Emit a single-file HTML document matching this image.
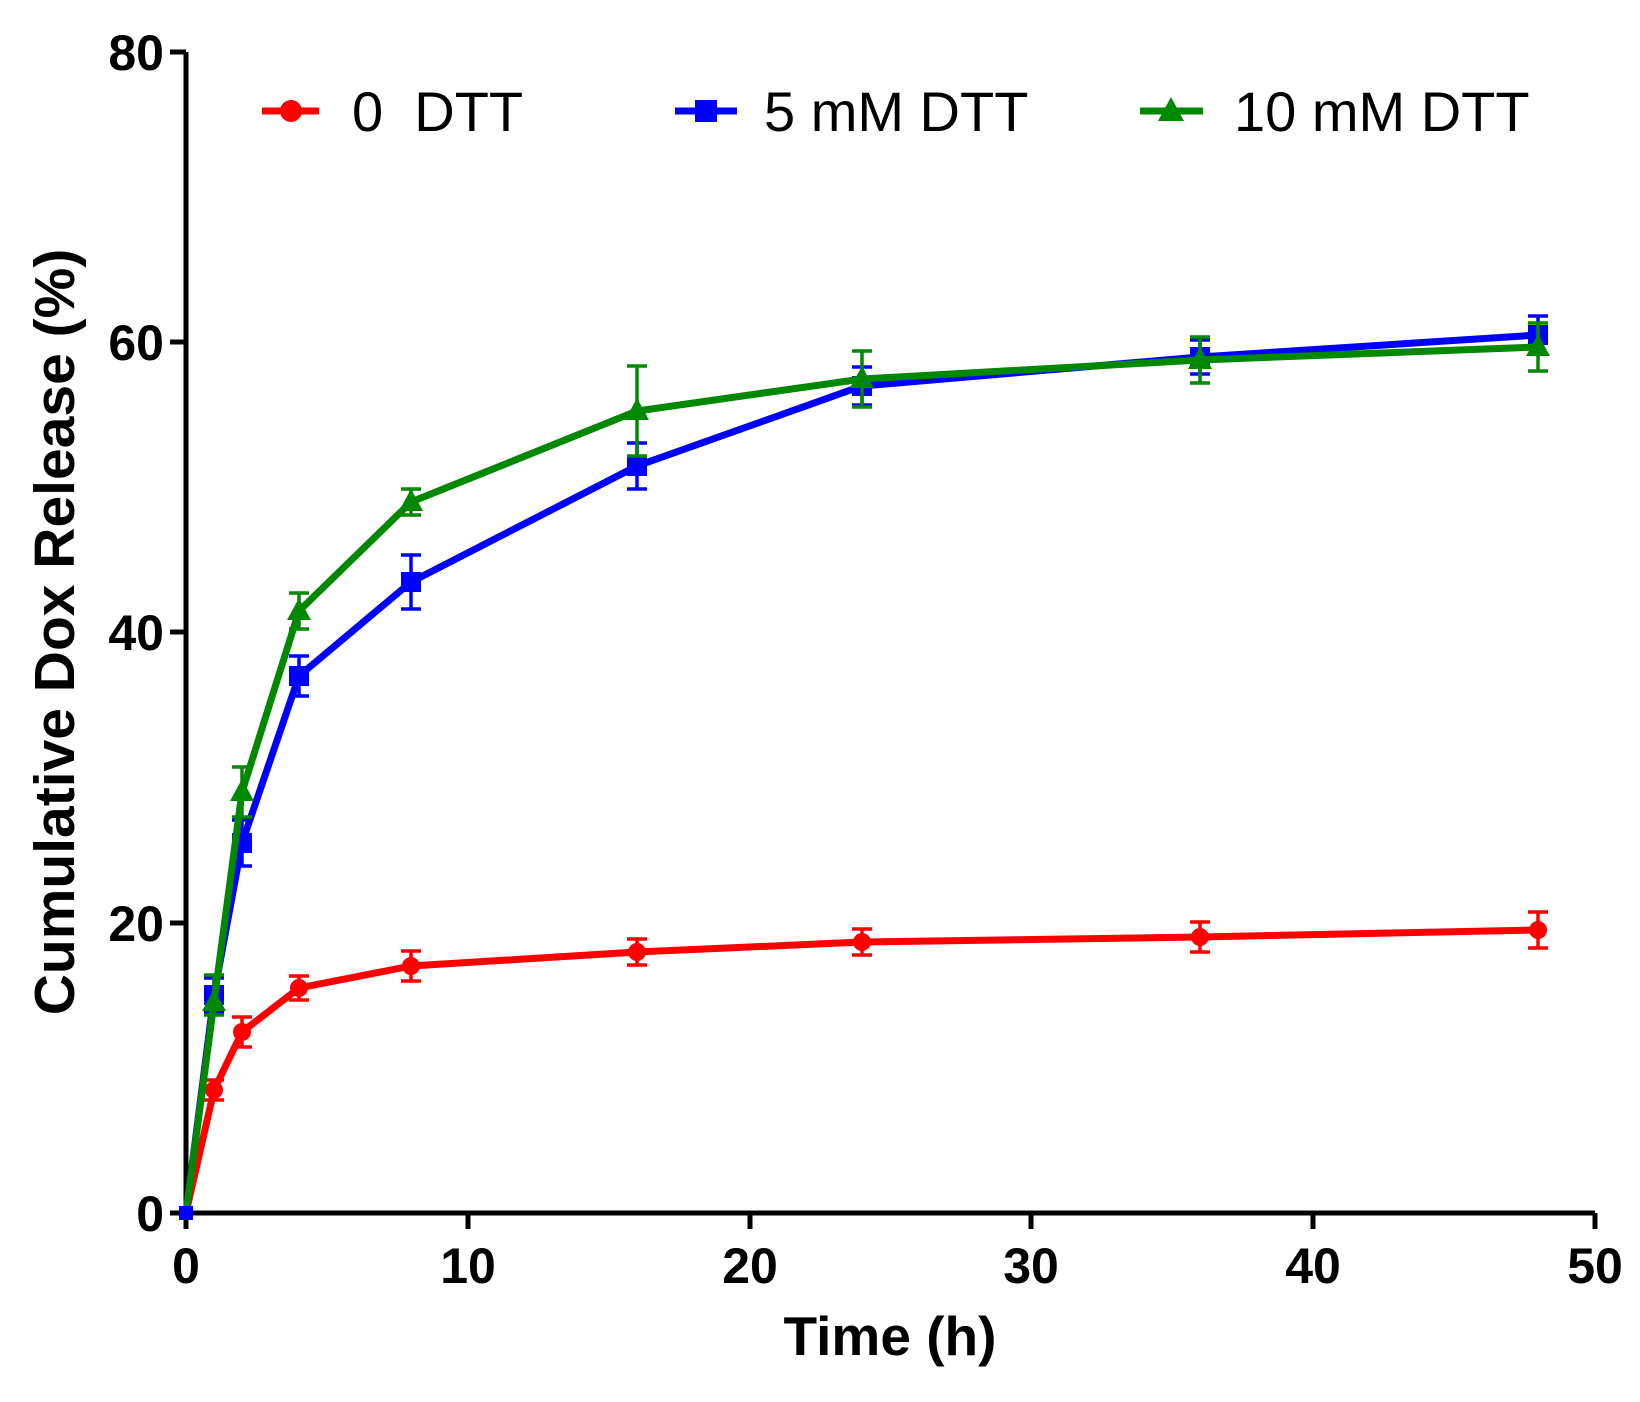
<!DOCTYPE html>
<html><head><style>body{margin:0;background:#fff}</style></head><body>
<svg width="1640" height="1397" xmlns="http://www.w3.org/2000/svg" font-family="Liberation Sans, Arial, sans-serif">
<rect width="1640" height="1397" fill="#fff"/>
<g stroke="#000" stroke-width="5" fill="none">
<polyline points="186,52 186,1213 1595,1213"/>
<line x1="170" y1="52" x2="186" y2="52"/><line x1="170" y1="342" x2="186" y2="342"/><line x1="170" y1="632" x2="186" y2="632"/><line x1="170" y1="923" x2="186" y2="923"/><line x1="170" y1="1213" x2="186" y2="1213"/>
<line x1="186" y1="1213" x2="186" y2="1229"/><line x1="468" y1="1213" x2="468" y2="1229"/><line x1="750" y1="1213" x2="750" y2="1229"/><line x1="1031" y1="1213" x2="1031" y2="1229"/><line x1="1313" y1="1213" x2="1313" y2="1229"/><line x1="1595" y1="1213" x2="1595" y2="1229"/>
</g>
<g font-size="50" font-weight="bold" text-anchor="end">
<text x="164" y="70">80</text><text x="164" y="360">60</text><text x="164" y="650">40</text><text x="164" y="941">20</text><text x="164" y="1231">0</text>
</g>
<g font-size="50" font-weight="bold" text-anchor="middle">
<text x="186" y="1283">0</text><text x="468" y="1283">10</text><text x="750" y="1283">20</text><text x="1031" y="1283">30</text><text x="1313" y="1283">40</text><text x="1595" y="1283">50</text>
<text x="890" y="1355" font-size="55">Time (h)</text>
<text transform="translate(74,632) rotate(-90)" font-size="57">Cumulative Dox Release (%)</text>
</g>
<g font-size="56">
<line x1="262" y1="111" x2="319" y2="111" stroke="#f00" stroke-width="7"/><circle cx="291" cy="111" r="11" fill="#f00"/>
<text x="352" y="131" xml:space="preserve">0  DTT</text>
<line x1="675" y1="111" x2="737" y2="111" stroke="#00f" stroke-width="7"/><rect x="695" y="100" width="22" height="22" fill="#00f"/>
<text x="764" y="131">5 mM DTT</text>
<line x1="1140" y1="111" x2="1203" y2="111" stroke="#080" stroke-width="7"/><polygon points="1171,97 1184,121 1158,121" fill="#080"/>
<text x="1234" y="131">10 mM DTT</text>
</g>
<g stroke="#f00" stroke-width="7" fill="#f00">
<polyline fill="none" points="186,1213 214,1090 242,1032 299,988 411,966 637,952 862,942 1200,937 1538,930"/>
<path fill="none" stroke-width="3.5" d="M214,1080v20M242,1017v30M299,976v24M411,951v30M637,939v26M862,929v26M1200,922v30M1538,912v36 M204,1080h20M204,1100h20M232,1017h20M232,1047h20M289,976h20M289,1000h20M401,951h20M401,981h20M627,939h20M627,965h20M852,929h20M852,955h20M1190,922h20M1190,952h20M1528,912h20M1528,948h20"/>
<g stroke="none"><circle cx="214" cy="1090" r="9"/><circle cx="242" cy="1032" r="9"/><circle cx="299" cy="988" r="9"/><circle cx="411" cy="966" r="9"/><circle cx="637" cy="952" r="9"/><circle cx="862" cy="942" r="9"/><circle cx="1200" cy="937" r="9"/><circle cx="1538" cy="930" r="9"/></g>
</g>
<g stroke="#00f" stroke-width="7" fill="#00f">
<polyline fill="none" points="186,1213 214,995 242,843 299,676 411,582 637,466 862,386 1200,357 1538,335"/>
<path fill="none" stroke-width="3.5" d="M214,978v34M242,820v46M299,656v40M411,555v54M637,443v46M862,367v38M1200,340v34M1538,316v38 M204,978h20M204,1012h20M232,820h20M232,866h20M289,656h20M289,696h20M401,555h20M401,609h20M627,443h20M627,489h20M852,367h20M852,405h20M1190,340h20M1190,374h20M1528,316h20M1528,354h20"/>
<g stroke="none"><rect x="204" y="985" width="20" height="20"/><rect x="232" y="833" width="20" height="20"/><rect x="289" y="666" width="20" height="20"/><rect x="401" y="572" width="20" height="20"/><rect x="627" y="456" width="20" height="20"/><rect x="852" y="376" width="20" height="20"/><rect x="1190" y="347" width="20" height="20"/><rect x="1528" y="325" width="20" height="20"/></g>
</g>
<g stroke="#080" stroke-width="7" fill="#080">
<polyline fill="none" points="186,1213 214,1002 242,792 299,611 411,502 637,411 862,379 1200,360 1538,347"/>
<path fill="none" stroke-width="3.5" d="M214,975v40M242,767v50M299,593v36M411,489v26M637,366v90M862,351v56M1200,337v46M1538,323v48 M204,975h20M204,1015h20M232,767h20M232,817h20M289,593h20M289,629h20M401,489h20M401,515h20M627,366h20M627,456h20M852,351h20M852,407h20M1190,337h20M1190,383h20M1528,323h20M1528,371h20"/>
<g stroke="none"><polygon points="214,989 226,1011 202,1011"/><polygon points="242,779 254,801 230,801"/><polygon points="299,598 311,620 287,620"/><polygon points="411,489 423,511 399,511"/><polygon points="637,398 649,420 625,420"/><polygon points="862,366 874,388 850,388"/><polygon points="1200,347 1212,369 1188,369"/><polygon points="1538,334 1550,356 1526,356"/></g>
</g>
<rect x="179" y="1206" width="14" height="14" fill="#00f"/>
</svg>
</body></html>
